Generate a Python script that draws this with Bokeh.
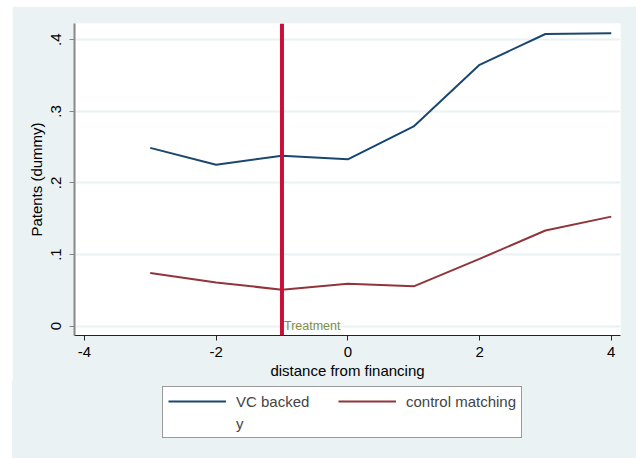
from bokeh.plotting import figure
from bokeh.layouts import column
from bokeh.models import Span, Legend, LegendItem, FixedTicker, Range1d
from bokeh.core.properties import value
from bokeh.embed import file_html
from bokeh.resources import INLINE

# data
dist = [-3, -2, -1, 0, 1, 2, 3, 4]
vc_backed = [0.249, 0.2255, 0.238, 0.233, 0.279, 0.365, 0.408, 0.409]
control_matching = [0.0743, 0.061, 0.051, 0.0594, 0.0557, 0.094, 0.1336, 0.153]
x_ticks = [-4, -2, 0, 2, 4]
y_ticks = [0, 0.1, 0.2, 0.3, 0.4]
y_tick_labels = ["0", ".1", ".2", ".3", ".4"]
legend_labels = ["VC backed", "control matching", "y"]
treatment_x = -1

FONT = "Liberation Sans"
BG = "#EAF2F3"
NAVY = "#1A476F"
MAROON = "#90353B"

p = figure(width=624, height=375, output_backend="svg", toolbar_location=None,
           x_range=Range1d(-4.15, 4.14), y_range=Range1d(-0.013, 0.4227),
           min_border_left=62, min_border_right=16, min_border_top=17, min_border_bottom=45,
           background_fill_color="white", border_fill_color=BG, outline_line_color=None,
           margin=(6, 3, 0, 12))

p.xgrid.visible = False
p.ygrid.grid_line_color = BG
p.ygrid.grid_line_width = 2
p.ygrid.ticker = FixedTicker(ticks=y_ticks)

p.xaxis.ticker = FixedTicker(ticks=x_ticks)
p.xaxis.major_label_overrides = {t: str(t) for t in x_ticks}
p.yaxis.ticker = FixedTicker(ticks=y_ticks)
p.yaxis.major_label_overrides = dict(zip(y_ticks, y_tick_labels))
p.yaxis.major_label_orientation = "vertical"

for ax in (p.xaxis[0], p.yaxis[0]):
    ax.minor_tick_line_color = None
    ax.major_tick_in = 0
    ax.major_tick_out = 5
    ax.major_label_text_font = FONT
    ax.major_label_text_font_size = "15px"
    ax.major_label_text_color = "black"
    ax.axis_label_text_font = FONT
    ax.axis_label_text_font_size = "15px"
    ax.axis_label_text_font_style = "normal"
    ax.axis_label_text_color = "black"

p.xaxis.axis_label = "distance from financing"
p.yaxis.axis_label = "Patents (dummy)"
p.xaxis.axis_line_color = "#222222"
p.xaxis.major_tick_line_color = "#222222"
p.yaxis.axis_line_color = "#888888"
p.yaxis.major_tick_line_color = "#888888"
p.yaxis.axis_line_width = 2
p.xaxis.major_label_standoff = 6
p.xaxis.axis_label_standoff = 2
p.yaxis.major_label_standoff = 8
p.yaxis.axis_label_standoff = 4

p.line(dist, vc_backed, line_color=NAVY, line_width=2)
p.line(dist, control_matching, line_color=MAROON, line_width=2)

p.add_layout(Span(location=treatment_x, dimension="height", line_color="#C8103A", line_width=4))
p.text(x=[treatment_x], y=[0], text=["Treatment"], text_font=value(FONT),
       text_font_size="12.5px", text_color="#7D8F4A", text_baseline="middle",
       x_offset=2, y_offset=0)

# legend strip below the chart (its renderers hold no visible data)
lg = figure(width=624, height=77, output_backend="svg", toolbar_location=None,
            x_range=Range1d(0, 1), y_range=Range1d(0, 1),
            min_border=0, background_fill_alpha=0, border_fill_alpha=0,
            outline_line_color=None, margin=(0, 3, 0, 12),
            styles={"background-color": BG})
lg.axis.visible = False
lg.grid.visible = False
l1 = lg.line(x=[-9, -8], y=[-9, -9], line_color=NAVY, line_width=2)
l2 = lg.line(x=[-9, -8], y=[-9, -9], line_color=MAROON, line_width=2)
l3 = lg.line(x=[-9, -8], y=[-9, -9], line_alpha=0)

legend = Legend(items=[LegendItem(label=legend_labels[0], renderers=[l1]),
                       LegendItem(label=legend_labels[2], renderers=[l3]),
                       LegendItem(label=legend_labels[1], renderers=[l2])],
                ncols=2, location=(88, 20), margin=0, padding=5, spacing=4,
                glyph_width=58, glyph_height=18, label_height=18, label_width=98,
                label_standoff=10,
                label_text_font=FONT, label_text_font_size="15px",
                border_line_color="#333333", border_line_width=1,
                background_fill_color="white", background_fill_alpha=1)
lg.add_layout(legend, "center")

layout = column(p, lg, spacing=0)
open("out.html", "w").write(file_html(layout, INLINE))
